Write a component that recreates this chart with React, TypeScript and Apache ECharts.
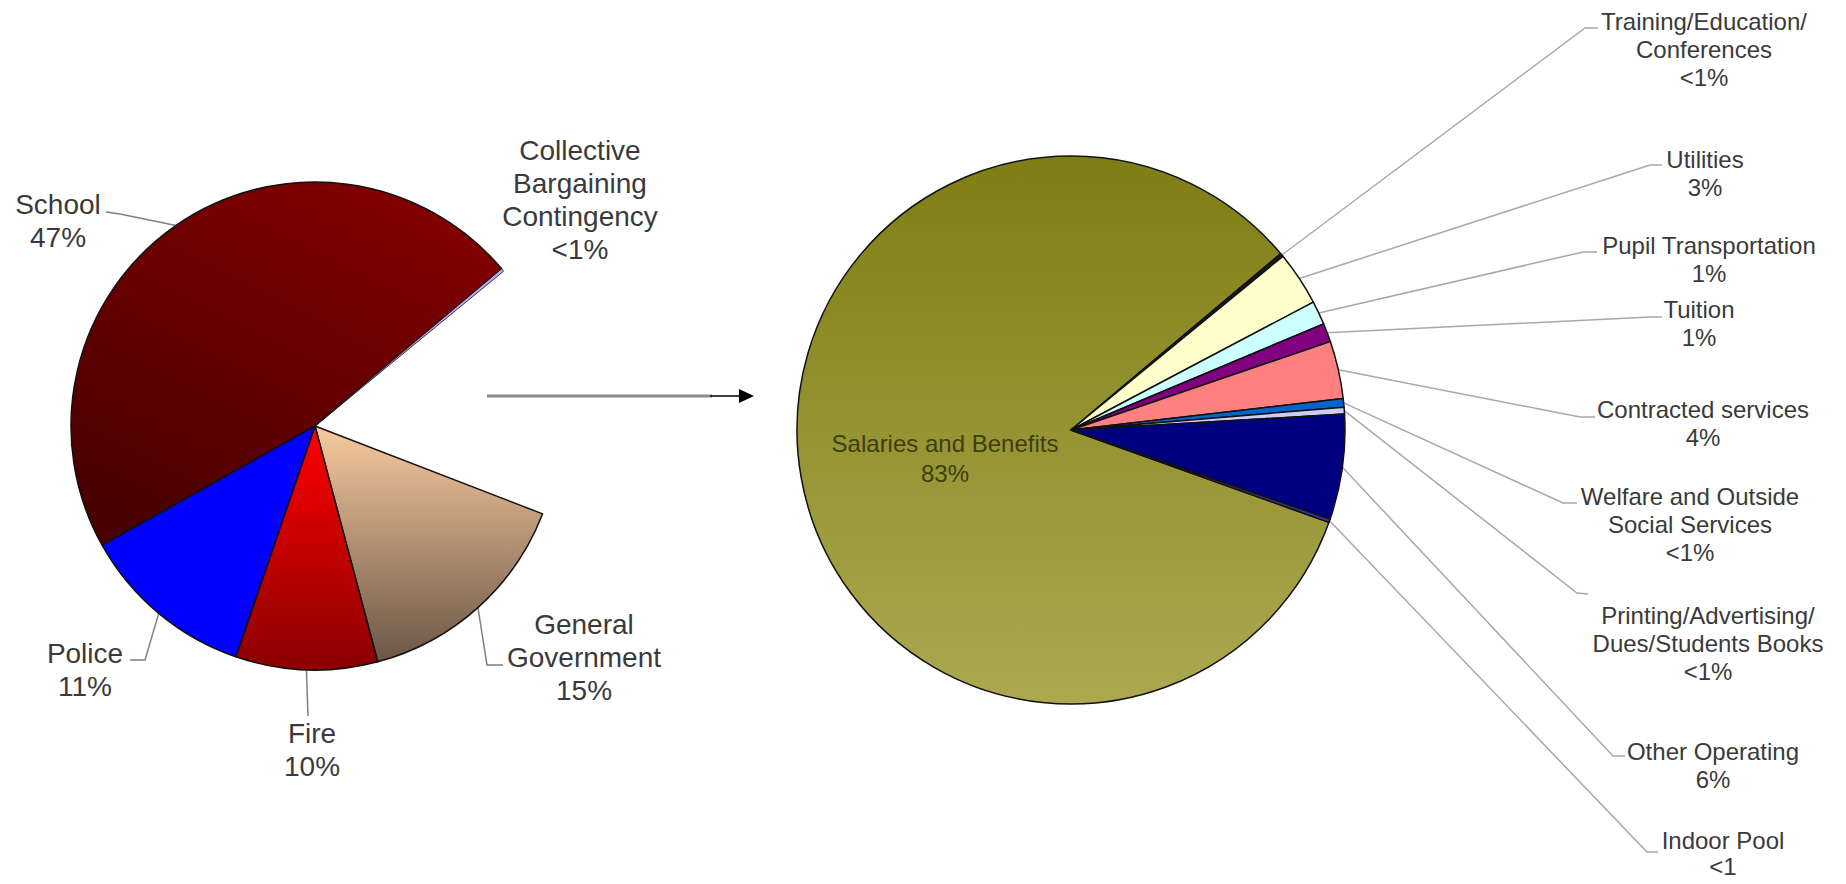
import React, { useEffect, useRef } from "react";
import * as echarts from "echarts";

// ---------- data ----------
const leftNames = ["School", "Collective Bargaining Contingency", "(gap)", "General Government", "Fire", "Police"];
const leftValues = [47, 0.2, 16.8, 15, 9.4, 11.6];
const leftLabelTexts = ["School\n47%", "Collective\nBargaining\nContingency\n<1%", "", "General\nGovernment\n15%", "Fire\n10%", "Police\n11%"];

const rightNames = [
  "Salaries and Benefits",
  "Training/Education/Conferences",
  "Utilities",
  "Pupil Transportation",
  "Tuition",
  "Contracted services",
  "Welfare and Outside Social Services",
  "Printing/Advertising/Dues/Students Books",
  "Other Operating",
  "Indoor Pool",
];
const rightValues = [83.4, 0.2, 3.2, 1.4, 1.1, 3.4, 0.5, 0.4, 6.2, 0.2];
const rightLabelTexts = [
  "Salaries and Benefits\n83%",
  "Training/Education/\nConferences\n<1%",
  "Utilities\n3%",
  "Pupil Transportation\n1%",
  "Tuition\n1%",
  "Contracted services\n4%",
  "Welfare and Outside\nSocial Services\n<1%",
  "Printing/Advertising/\nDues/Students Books\n<1%",
  "Other Operating\n6%",
  "Indoor Pool\n<1",
];

// ---------- layout (positions of labels / leader elbows) ----------
const leftLabelPos: (number[] | null)[] = [[58, 221], [580, 200], null, [584, 657], [312, 750], [85, 670]];
const leftLeader: (number[][] | null)[] = [
  [[120, 214], [106, 212]],
  null,
  null,
  [[487, 665], [503, 665]],
  [[308, 716], [308, 716]],
  [[145, 660], [130, 660]],
];
const rightLabelPos: number[][] = [
  [945, 458],
  [1704, 49],
  [1705, 173],
  [1709, 259],
  [1699, 323],
  [1703, 423],
  [1690, 524],
  [1708, 643],
  [1713, 765],
  [1723, 853],
];
const rightLeader: (number[][] | null)[] = [
  null,
  [[1585, 28], [1598, 28]],
  [[1650, 165], [1662, 165]],
  [[1583, 252], [1597, 252]],
  [[1650, 317], [1662, 317]],
  [[1580, 417], [1595, 417]],
  [[1563, 503], [1577, 503]],
  [[1577, 593], [1588, 594]],
  [[1613, 756], [1625, 756]],
  [[1647, 852], [1658, 852]],
];

const FONT = "'Liberation Sans', Arial, sans-serif";

const grad = (c0: string, c1: string, x0 = 0, y0 = 0, x1 = 0, y1 = 1) =>
  new echarts.graphic.LinearGradient(x0, y0, x1, y1, [
    { offset: 0, color: c0 },
    { offset: 1, color: c1 },
  ]);

export default function App() {
  const ref = useRef<HTMLDivElement>(null);
  useEffect(() => {
    if (!ref.current) return;
    const chart = echarts.init(ref.current, undefined, { renderer: "svg" });

    const leftColors: any[] = [
      grad("#840000", "#480000", 0.8, 0, 0.2, 1),
      "#c0a6f2",
      "rgba(0,0,0,0)",
      grad("#f8ca9e", "#6a5646"),
      grad("#ff0000", "#8a0000"),
      "#0000ff",
    ];
    const rightColors: any[] = [
      grad("#7e7e14", "#aca850"),
      "#1a1a1a",
      "#ffffcc",
      "#ccffff",
      "#800080",
      "#ff8080",
      "#0066cc",
      "#ccccff",
      "#000080",
      "#333399",
    ];

    const leftData = leftNames.map((n, i) => {
      const hidden = i === 2;
      return {
        name: n,
        value: leftValues[i],
        itemStyle: hidden
          ? { color: "rgba(0,0,0,0)", borderWidth: 0 }
          : i === 1
          ? { color: leftColors[i], borderWidth: 0.8 }
          : { color: leftColors[i] },
        label: { show: !hidden },
        labelLine: { show: !hidden && leftLeader[i] != null },
      };
    });

    const rightData = rightNames.map((n, i) => ({
      name: n,
      value: rightValues[i],
      itemStyle: { color: rightColors[i] },
      label:
        i === 0
          ? { color: "#3e3e0c", fontSize: 24, lineHeight: 30 }
          : i === rightNames.length - 1
          ? { lineHeight: 26 }
          : {},
      labelLine: { show: rightLeader[i] != null },
    }));

    const mkLayout = (pos: (number[] | null)[], leader: (number[][] | null)[]) => (p: any) => {
      const i = p.dataIndex;
      const ps = pos[i];
      if (!ps) return {};
      const out: any = { x: ps[0], y: ps[1], align: "center", verticalAlign: "middle" };
      const ld = leader[i];
      if (ld && p.labelLinePoints && p.labelLinePoints[0]) {
        out.labelLinePoints = [p.labelLinePoints[0], ld[0], ld[1]];
      }
      return out;
    };

    chart.setOption({
      animation: false,
      backgroundColor: "#ffffff",
      series: [
        {
          type: "pie",
          center: [315, 426],
          radius: 244,
          startAngle: 209.3,
          clockwise: true,
          avoidLabelOverlap: false,
          silent: true,
          emphasis: { disabled: true },
          itemStyle: { borderColor: "#111", borderWidth: 1.5 },
          label: {
            show: true,
            position: "outside",
            formatter: (p: any) => leftLabelTexts[p.dataIndex],
            fontSize: 28,
            lineHeight: 33,
            color: "#3a3a3a",
            fontFamily: FONT,
            align: "center",
          },
          labelLine: { show: true, lineStyle: { color: "#808080", width: 1.5 } },
          labelLayout: mkLayout(leftLabelPos, leftLeader),
          data: leftData,
        },
        {
          type: "pie",
          center: [1071, 430],
          radius: 274,
          startAngle: 340.3,
          clockwise: true,
          avoidLabelOverlap: false,
          silent: true,
          emphasis: { disabled: true },
          itemStyle: { borderColor: "#111", borderWidth: 1.5 },
          label: {
            show: true,
            position: "outside",
            formatter: (p: any) => rightLabelTexts[p.dataIndex],
            fontSize: 24,
            lineHeight: 28,
            color: "#3a3a3a",
            fontFamily: FONT,
            align: "center",
          },
          labelLine: { show: true, lineStyle: { color: "#a8a8a8", width: 1.5 } },
          labelLayout: mkLayout(rightLabelPos, rightLeader),
          data: rightData,
        },
      ],
      graphic: [
        {
          type: "line",
          shape: { x1: 487, y1: 396, x2: 712, y2: 396 },
          style: { stroke: "#8a8a8a", lineWidth: 3 },
          silent: true,
        },
        {
          type: "line",
          shape: { x1: 710, y1: 396, x2: 741, y2: 396 },
          style: { stroke: "#000", lineWidth: 1.5 },
          silent: true,
        },
        {
          type: "polygon",
          shape: { points: [[739, 389], [754, 396], [739, 403]] },
          style: { fill: "#000" },
          silent: true,
        },
      ],
    });
    return () => chart.dispose();
  }, []);

  return (
    <div
      ref={ref}
      style={{ position: "fixed", left: 0, top: 0, width: 1846, height: 884, background: "#fff" }}
    />
  );
}
